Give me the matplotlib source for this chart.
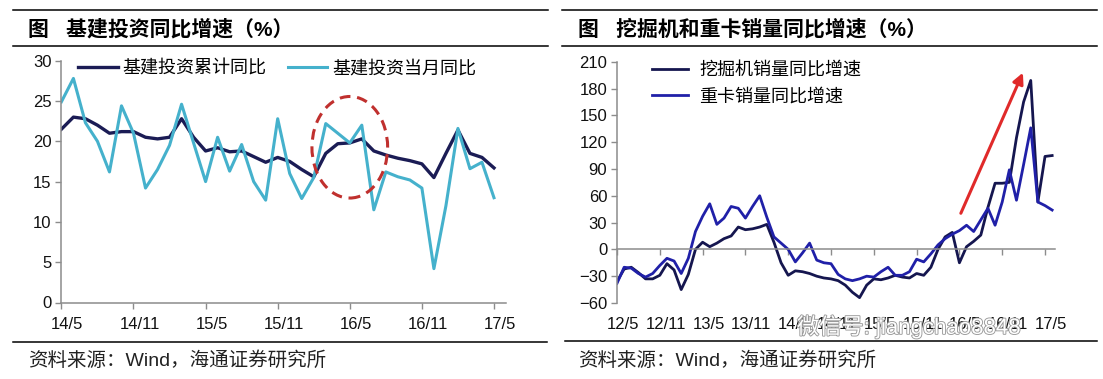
import matplotlib
matplotlib.use('Agg')
import matplotlib.pyplot as plt
import matplotlib.transforms as mtransforms
import matplotlib.patheffects as pe
from matplotlib.patches import Ellipse
from matplotlib.lines import Line2D

plt.rcParams['font.family'] = ['Liberation Sans', 'Noto Sans CJK SC', 'DejaVu Sans']

# ---- left chart: 基建投资同比 (monthly, 14/5 .. 17/5) ----
infra_ticks = ['14/5', '14/11', '15/5', '15/11', '16/5', '16/11', '17/5']
infra_cum = [21.5, 23.0, 22.8, 22.0, 21.0, 21.2, 21.2, 20.5, 20.3, 20.5,
             22.8, 20.5, 18.8, 19.2, 18.7, 18.8, 18.1, 17.4, 18.0, 17.5,
             16.5, 15.6, 18.5, 19.7, 19.8, 20.3, 18.8, 18.3, 17.9, 17.6,
             17.2, 15.5, 18.5, 21.4, 18.5, 18.0, 16.7]
infra_month = [24.9, 27.8, 22.3, 20.0, 16.2, 24.4, 21.0, 14.2, 16.5, 19.5,
               24.6, 19.8, 15.0, 20.5, 16.3, 19.6, 15.0, 12.7, 22.8, 16.0,
               12.9, 15.5, 22.2, 21.0, 19.8, 22.0, 11.5, 16.2, 15.6, 15.2,
               14.2, 4.2, 12.0, 21.6, 16.6, 17.4, 13.0]

# ---- right chart: 挖掘机 / 重卡 销量同比 (12/5 .. 17/5) ----
machine_ticks = ['12/5', '12/11', '13/5', '13/11', '14/5', '14/11',
                 '15/5', '15/11', '16/5', '16/11', '17/5']
excavator = [-36, -22, -20, -26, -33, -33, -29, -16, -23, -45,
             -28, 0, 8, 3, 7, 12, 15, 25, 22, 23,
             25, 28, 8, -15, -29, -24, -25, -27, -30, -32,
             -33, -35, -40, -48, -54, -40, -33, -34, -32, -29,
             -31, -32, -27, -29, -20, 0, 14, 19, -15, 3,
             9, 16, 47, 74, 74, 75, 125, 165, 189, 53,
             104, 105]
truck = [-38, -20, -21, -27, -31, -27, -18, -10, -13, -27,
         -10, 20, 37, 51, 28, 35, 48, 46, 35, 48,
         60, 36, 14, 7, 0, -14, -4, 7, -12, -15,
         -16, -28, -33, -35, -33, -30, -31, -25, -20, -29,
         -29, -25, -11, -14, -5, 5, 12, 17, 21, 27,
         20, 33, 46, 27, 53, 89, 55, 95, 136, 53,
         49, 44]

W, H = 1103, 379
fig = plt.figure(figsize=(W / 100, H / 100), dpi=100)
fig.patch.set_facecolor('white')


def box(x0, y0, x1, y1):
    return [x0 / W, 1 - y1 / H, (x1 - x0) / W, (y1 - y0) / H]


def rule(x0, x1, y):
    fig.add_artist(Line2D([x0 / W, x1 / W], [1 - y / H, 1 - y / H],
                          transform=fig.transFigure, color='black', lw=1.1))


def style_axes(ax):
    for s in ['top', 'right']:
        ax.spines[s].set_visible(False)
    for s in ['left', 'bottom']:
        ax.spines[s].set_color('#8c8c8c')
        ax.spines[s].set_linewidth(1.1)
    ax.tick_params(axis='both', direction='out', length=4, width=1,
                   color='#8c8c8c', labelsize=12, labelcolor='#111111')
    ax.tick_params(axis='y', pad=3)
    ax.tick_params(axis='x', labelbottom=False)


shift = mtransforms.ScaledTranslation(0.06, 0, fig.dpi_scale_trans)

# left panel
ax1 = fig.add_axes(box(61.4, 60.7, 506, 302.5))
style_axes(ax1)
x1 = range(len(infra_cum))
ax1.plot(x1, infra_cum, color='#1b1c55', lw=2.4, label='基建投资累计同比',
         solid_joinstyle='round')
ax1.plot(x1, infra_month, color='#45b1cc', lw=2.2, label='基建投资当月同比',
         solid_joinstyle='round')
ax1.set_xlim(0, 37)
ax1.set_ylim(0, 30)
ax1.set_yticks(range(0, 31, 5))
ax1.set_xticks(range(0, 37, 6))
for i, lab in enumerate(infra_ticks):
    ax1.text(i * 6, -0.089, lab, transform=ax1.get_xaxis_transform() + shift,
             ha='center', va='center', fontsize=12, color='#111111')
ax1.add_patch(Ellipse((24.0, 19.26), 6.3, 12.6, fill=False, ec='#c0302e',
                      lw=2.2, ls=(0, (3.5, 2.2)), zorder=5))
ax1.legend(loc='upper left', bbox_to_anchor=(0.037, 1.0), ncol=2, frameon=False,
           fontsize=13, handlelength=2.2, handletextpad=0.25, columnspacing=1.2,
           borderaxespad=0, borderpad=0)

# right panel
ax2 = fig.add_axes(box(617, 61.7, 1055, 303))
style_axes(ax2)
ax2.spines['bottom'].set_position(('data', 0))
x2 = range(len(excavator))
ax2.plot(x2, excavator, color='#15164f', lw=2.0, label='挖掘机销量同比增速',
         solid_joinstyle='round')
ax2.plot(x2, truck, color='#2020a8', lw=2.0, label='重卡销量同比增速',
         solid_joinstyle='round')
ax2.set_xlim(0, 61.4)
ax2.set_ylim(-60, 210)
ax2.set_yticks(range(-60, 211, 30))
ax2.set_xticks(range(0, 61, 6))
for i, lab in enumerate(machine_ticks):
    ax2.text(i * 6, -0.091, lab, transform=ax2.get_xaxis_transform() + shift,
             ha='center', va='center', fontsize=12, color='#111111')
ax2.annotate('', xy=(56.9, 197.7), xytext=(48.2, 40.4),
             arrowprops=dict(arrowstyle='-|>', color='#e02a2a', lw=2.2,
                             mutation_scale=16, shrinkA=0, shrinkB=0))
ax2.legend(loc='upper left', bbox_to_anchor=(0.08, 0.997), frameon=False,
           fontsize=13, handlelength=2.0, handletextpad=0.6, labelspacing=0.5,
           borderaxespad=0, borderpad=0)

# titles, rules, sources
rule(13, 548, 10)
rule(13, 548, 46)
rule(13, 547, 342)
rule(562, 1097, 10)
rule(562, 1097, 46)
rule(565, 1097, 341)

fig.text(28 / W, 1 - 29 / H, '图   基建投资同比增速（%）', fontsize=15,
         fontweight='bold', va='center', ha='left')
fig.text(578 / W, 1 - 29 / H, '图   挖掘机和重卡销量同比增速（%）', fontsize=15,
         fontweight='bold', va='center', ha='left')
fig.text(28 / W, 1 - 361 / H, '资料来源：Wind，海通证券研究所', fontsize=14,
         va='center', ha='left', color='#222222')
fig.text(578 / W, 1 - 361 / H, '资料来源：Wind，海通证券研究所', fontsize=14,
         va='center', ha='left', color='#222222')

# wechat watermark, drawn over the tick labels as in the source picture
fig.text(797 / W, 1 - 327 / H, '微信号: jiangchao8848', fontsize=16, color='white',
         va='center', ha='left', zorder=10,
         path_effects=[pe.withStroke(linewidth=1.3, foreground='#9a9a9a')])

fig.savefig('out.png', dpi=100)
